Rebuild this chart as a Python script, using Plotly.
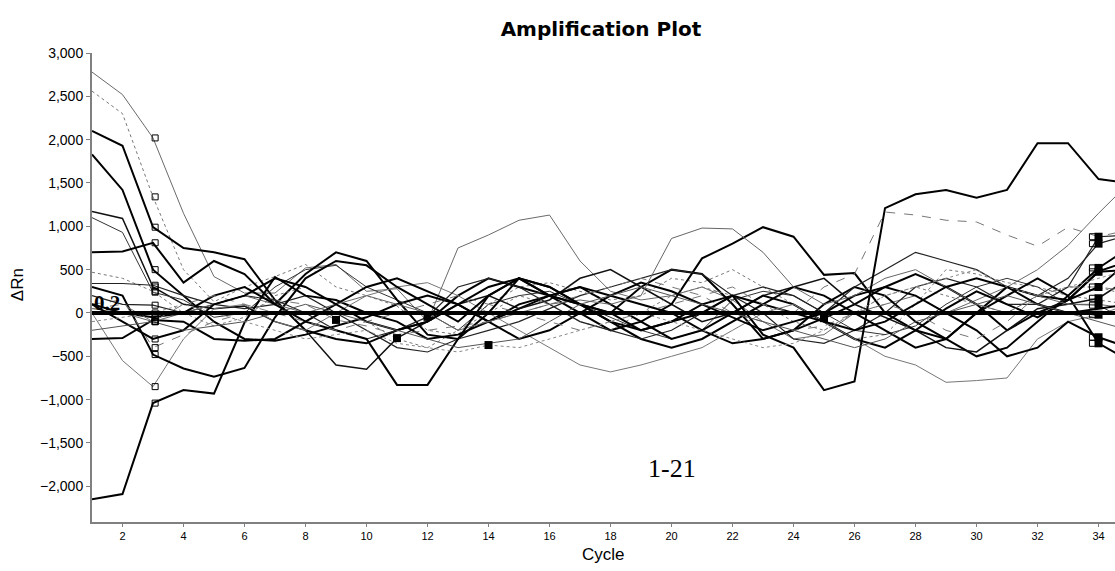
import plotly.graph_objects as go

cycles = list(range(1, 36))

s01 = [2780, 2520, 2020, 1150, 420, 230, 230, 520, 560, 250, 280, -100, 750, 900, 1070, 1130, 600, 250, 150, 200, 300, 150, -100, -300, -250, 0, 100, 200, 0, 150, 300, 500, 780, 1150, 1500]
s02 = [2560, 2300, 1340, 500, 130, 300, 420, 560, 300, 200, 80, -200, -250, 100, 300, 350, 250, 150, 200, 400, 350, 500, 300, 100, -100, -300, -250, 100, 500, 450, 350, 300, 200, 150, 100]
s03 = [2100, 1930, 990, 750, 700, 620, 150, -200, -300, -350, -200, -100, 200, 400, 300, 200, 100, 0, 300, 500, 450, 100, -300, -200, 100, 300, 200, -100, -300, -500, -400, -100, 200, 520, 750]
s04 = [1830, 1420, 500, 200, -100, -300, -320, -250, -150, -50, 100, 200, 100, -100, 50, 200, 300, 200, 100, 0, -200, -350, -300, -200, -60, 100, 300, 450, 300, 100, -200, 0, 150, 300, 600]
s05 = [1170, 1090, 300, 100, 50, 80, -100, -200, -600, -650, -290, -100, 100, 200, 50, 150, 400, 500, 300, 100, -100, 0, 200, 300, 400, 100, -50, -200, -400, -450, -200, 50, 100, 170, 400]
s06 = [1100, 930, 240, 150, -50, 0, 300, 500, 550, 300, 150, 0, -200, 100, 200, 250, 100, -50, -200, -300, -200, 150, 250, 200, 0, -200, -250, -150, 100, 300, 400, 300, 100, 90, -100]
s07 = [700, 710, 810, 350, 600, 450, 100, 450, 700, 600, 150, -250, -300, 0, 400, 200, 0, -200, -100, 100, 630, 800, 990, 880, 440, 460, 0, -200, -300, 0, 300, 200, 150, 480, 600]
s08 = [470, 400, 250, 0, -150, -50, 200, 300, 100, -100, -300, -400, -200, 0, 200, 100, -100, -200, 0, 200, 300, 200, 100, -100, -200, 0, 200, 300, 200, 100, 0, 200, 300, 300, 200]
s09 = [340, 340, 320, 200, 100, 50, 100, 200, 0, -200, -400, -450, -300, -200, -100, 50, 200, 300, 400, 500, 450, 200, 0, -300, -350, -200, 0, 300, 400, 300, 100, 100, 300, 880, 900]
s10 = [-2150, -2090, -1040, -890, -930, -110, 415, 200, 150, 0, -100, -300, -250, -100, 100, 200, 300, 100, -100, -300, -200, 0, 200, 100, -100, -300, -400, -200, 50, 250, 100, -50, 150, 475, 500]
s11 = [0, -550, -850, -300, 50, 100, -100, -200, 0, 200, 300, 350, 200, 0, -200, -400, -600, -680, -600, -500, -400, -200, 0, 100, -100, -300, -500, -600, -800, -780, -750, -300, -100, -20, 100]
s12 = [-300, -290, -80, -100, -300, -320, -300, -100, 100, 300, 400, 250, 100, -100, -300, -200, 0, 200, 350, 250, 100, -50, -200, -100, 0, 200, 300, 200, 0, -200, -500, -400, -100, -280, -400]
s13 = [300, 200, -480, -640, -735, -635, -50, 400, 600, 550, 300, 100, -100, 200, 400, 300, 100, -100, -300, -400, -300, -100, 100, 300, 200, 0, -200, -400, -300, 0, 200, 400, 200, -350, -550]
s14 = [100, 150, -400, -250, -100, 0, 150, 100, -80, -150, -250, -200, -150, -100, 0, 100, 200, 300, 400, 300, 200, 0, -100, -200, -150, 0, 100, 0, -200, -300, -100, 200, 300, 300, 250]
s15 = [200, 100, 90, 0, 100, 200, 150, 0, -200, -300, -200, -45, 300, 400, 300, 100, -100, -200, -300, -200, 0, 200, 300, 200, 0, 300, 500, 700, 600, 500, 300, 200, 400, 800, 900]
s16 = [50, 0, -100, 0, 100, 200, 100, 0, 100, 200, 100, 0, -200, -100, 0, 100, 150, 100, 200, 860, 980, 970, 700, 300, 100, 200, 400, 500, 300, 100, 0, 200, 100, 100, 50]
s17 = [100, 0, -50, 0, 200, 300, 100, -100, -200, -300, -830, -830, -300, 200, 400, 300, 100, -100, -200, -100, 0, 200, 100, 0, -100, -200, -100, 100, 300, 400, 300, 100, 0, 50, 100]
s18 = [50, 100, -100, 100, 200, 100, 0, -100, -200, -100, 0, 100, 200, 100, 0, -100, -200, -100, 0, 100, 200, 300, 100, 0, 300, 450, 1165, 1130, 1070, 1050, 900, 770, 990, 880, 960]
s19 = [100, -100, -300, -200, 100, 200, 400, 300, 100, -100, -200, -100, 100, 300, 400, 200, 100, 0, -200, -100, 100, 200, -250, -400, -890, -790, 1210, 1370, 1420, 1330, 1420, 1960, 1960, 1545, 1500]
s20 = [-100, -50, 0, 100, 0, -100, -200, -300, -250, -200, -350, -400, -450, -370, -400, -300, -200, -100, 0, -100, -200, -300, -400, -350, -200, 0, 200, 300, 400, 500, 300, 200, 300, 400, 500]
s21 = [-200, -150, -100, -200, -150, -100, 0, 100, 0, -100, -200, -300, -400, -350, -300, -100, 100, 200, 300, 200, 100, 0, -100, -200, -300, -400, -300, -100, 0, 100, 200, 100, 0, -100, -200]

series = [s01, s02, s03, s04, s05, s06, s07, s08, s09, s10, s11, s12, s13, s14, s15, s16, s17, s18, s19, s20, s21]
styles = [
    ("#6a6a6a", 1, "solid"), ("#777777", 1, "dot"), ("#000000", 2, "solid"), ("#000000", 2, "solid"),
    ("#111111", 1.5, "solid"), ("#333333", 1, "solid"), ("#000000", 2, "solid"), ("#777777", 1, "dot"),
    ("#222222", 1.2, "solid"), ("#000000", 2, "solid"), ("#777777", 1, "solid"), ("#000000", 2, "solid"),
    ("#000000", 2, "solid"), ("#777777", 1, "dash"), ("#222222", 1.2, "solid"), ("#666666", 1, "solid"),
    ("#000000", 2, "solid"), ("#777777", 1, "dash"), ("#000000", 2, "solid"), ("#888888", 1, "dot"),
    ("#555555", 1, "solid"),
]

start_cycle = 3
end_cycle = 34
end_marked = [2, 3, 4, 5, 8, 9, 10, 11, 12, 14]   # series indices with filled end markers
ct_points = [(13, 9), (4, 11), (14, 12), (19, 14), (3, 25)]  # (series index, cycle)

threshold = 0
threshold_label = "0.2"
x_ticks = list(range(2, 35, 2))
y_ticks = list(range(-2000, 3001, 500))

fig = go.Figure()
for s, (col, w, dash) in zip(series, styles):
    fig.add_trace(go.Scatter(x=cycles, y=s, mode="lines",
                             line=dict(color=col, width=w, dash=dash),
                             hoverinfo="skip", showlegend=False))

fig.add_trace(go.Scatter(x=[cycles[0], cycles[-1]], y=[threshold, threshold], mode="lines",
                         line=dict(color="black", width=4), showlegend=False))

fig.add_trace(go.Scatter(x=[start_cycle + 0.07] * len(series),
                         y=[s[start_cycle - 1] for s in series], mode="markers",
                         marker=dict(symbol="square-open", size=6, color="black", line=dict(width=1)),
                         showlegend=False))
fig.add_trace(go.Scatter(x=[end_cycle - 0.2] * len(end_marked),
                         y=[series[i][end_cycle - 1] for i in end_marked], mode="markers",
                         marker=dict(symbol="square-open", size=6, color="black", line=dict(width=1)),
                         showlegend=False))
fig.add_trace(go.Scatter(x=[end_cycle] * len(end_marked),
                         y=[series[i][end_cycle - 1] for i in end_marked], mode="markers",
                         marker=dict(symbol="square", size=8, color="black"),
                         showlegend=False))
fig.add_trace(go.Scatter(x=[c for _, c in ct_points],
                         y=[series[i][c - 1] for i, c in ct_points], mode="markers",
                         marker=dict(symbol="square", size=8, color="black"),
                         showlegend=False))

fig.update_layout(
    width=1115, height=571,
    margin=dict(l=92, r=0, t=53, b=49),
    paper_bgcolor="white", plot_bgcolor="white",
    title=dict(text="<b>Amplification Plot</b>", x=0.539, xref="container", xanchor="center",
               y=0.95, yref="container", yanchor="middle",
               font=dict(family="DejaVu Sans", size=20, color="black")),
    xaxis=dict(range=[1, 34.54], tickvals=x_ticks, showgrid=False, zeroline=False,
               showline=True, linecolor="#808080", linewidth=2, ticks="outside", ticklen=3,
               tickcolor="#808080", tickfont=dict(family="Liberation Sans", size=11, color="black")),
    yaxis=dict(range=[-2412, 3000], tickvals=y_ticks, tickformat=",", showgrid=False, zeroline=False,
               showline=True, linecolor="#808080", linewidth=2, ticks="outside", ticklen=4,
               tickcolor="#808080", tickfont=dict(family="Liberation Sans", size=14, color="black")),
    annotations=[
        dict(text="ΔRn", x=-0.0733, y=0.505, xref="paper", yref="paper", textangle=-90,
             xanchor="center", yanchor="middle",
             showarrow=False, font=dict(family="Liberation Sans", size=17, color="black")),
        dict(text="Cycle", x=0.5, y=-0.07, xref="paper", yref="paper",
             xanchor="center", yanchor="middle",
             showarrow=False, font=dict(family="Liberation Sans", size=17, color="black")),
        dict(text="1-21", x=20.0, y=-1790, xref="x", yref="y", showarrow=False,
             xanchor="center", yanchor="middle",
             font=dict(family="Liberation Serif", size=26, color="black")),
        dict(text="<b>" + threshold_label + "</b>", x=1.0, y=threshold, xref="x", yref="y",
             xanchor="left", yanchor="bottom", yshift=-4, showarrow=False,
             font=dict(family="Liberation Serif", size=21, color="black")),
    ],
)

fig.write_html("out.html", config={"displayModeBar": False},
               post_script="document.body.style.margin='0px';document.body.style.overflow='hidden';")
